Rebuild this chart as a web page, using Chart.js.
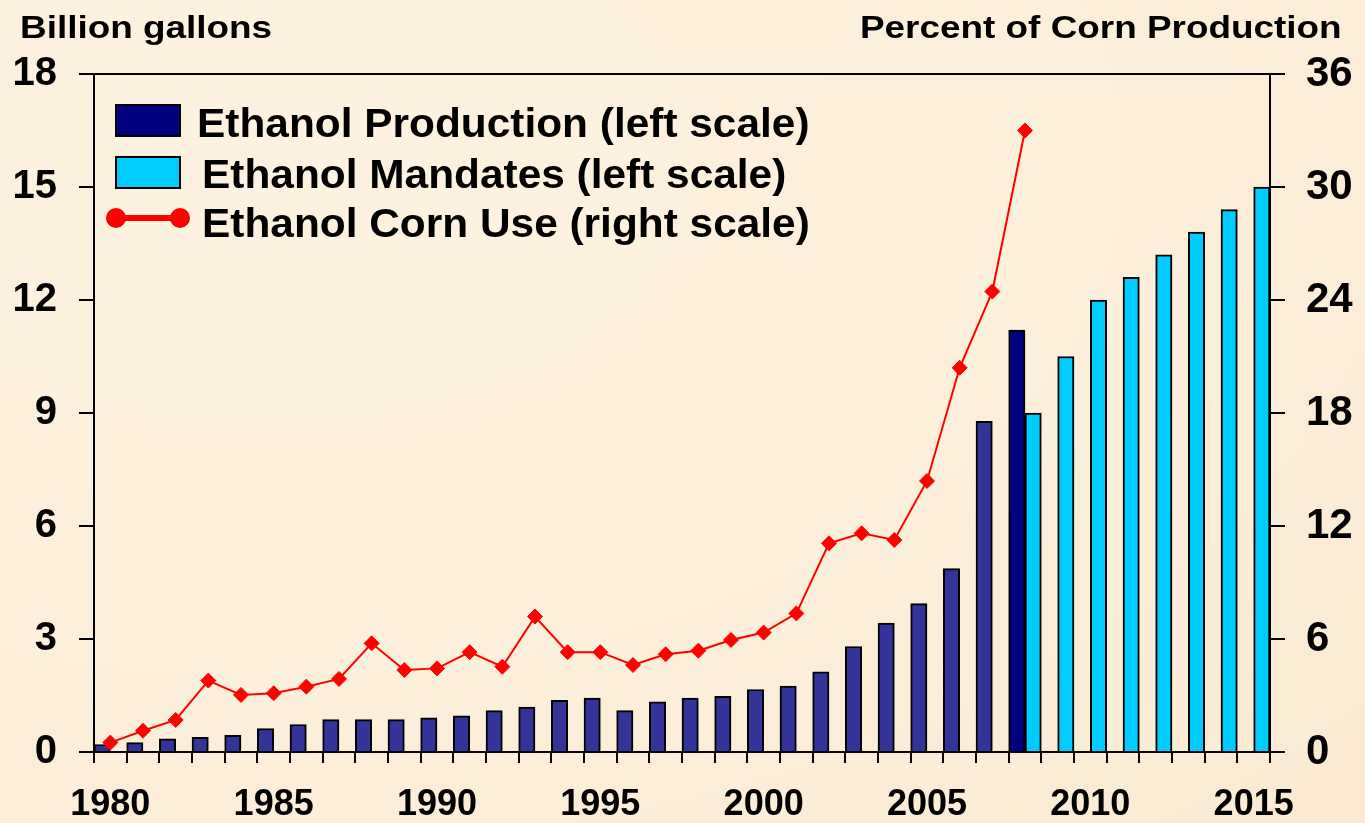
<!DOCTYPE html>
<html>
<head>
<meta charset="utf-8">
<title>Ethanol production, mandates and corn use</title>
<script src="https://cdn.jsdelivr.net/npm/chart.js@4.4.1/dist/chart.umd.min.js"></script>
<style>
  html, body { margin: 0; padding: 0; overflow: hidden; }
  body { background: #fcefdb; font-family: Arial, "Liberation Sans", sans-serif; }
  #wrap { position: relative; width: 1365px; height: 823px;
    background: radial-gradient(ellipse at 20% 20%, #fdf2e1 0%, #fcefdb 55%, #faead3 100%); }
  .txt { position: absolute; white-space: nowrap; font-weight: bold; color: #000;
    line-height: 1; transform-origin: 0 0; }
  .axtitle { font-size: 31px; transform: scaleX(1.19); top: 12px; }
  .leg { font-size: 40px; transform: scaleX(1.06); }
  .box { position: absolute; width: 62px; height: 29px; border: 2px solid #000; }
  .lineKey { position: absolute; left: 106px; top: 208px; width: 84px; height: 20px; }
  .lineKey .bar { position: absolute; left: 10px; right: 10px; top: 7px; height: 6px; background: #ff0000; }
  .lineKey .dot { position: absolute; top: 0; width: 20px; height: 20px; border-radius: 50%; background: #ff0000; }
</style>
</head>
<body>
<div id="wrap">
  <canvas id="ethanolChart"></canvas>

  <div class="txt axtitle" style="left:20px;">Billion gallons</div>
  <div class="txt axtitle" style="left:860px;">Percent of Corn Production</div>

  <div class="box" style="left:115px; top:104px; background:#000080;"></div>
  <div class="txt leg" style="left:197px; top:103px;">Ethanol Production (left scale)</div>

  <div class="box" style="left:115px; top:156px; background:#00ccff;"></div>
  <div class="txt leg" style="left:202px; top:154px;">Ethanol Mandates (left scale)</div>

  <div class="lineKey">
    <div class="bar"></div>
    <div class="dot" style="left:0;"></div>
    <div class="dot" style="right:0;"></div>
  </div>
  <div class="txt leg" style="left:202px; top:203px;">Ethanol Corn Use (right scale)</div>
</div>

<script>
// Years on the x axis
const years = [];
for (let y = 1980; y <= 2015; y++) years.push(String(y));

// Billion gallons (left scale)
const production = [0.20, 0.25, 0.35, 0.39, 0.44, 0.62, 0.73, 0.86, 0.86, 0.86,
  0.91, 0.96, 1.10, 1.19, 1.37, 1.43, 1.10, 1.33, 1.43, 1.48,
  1.66, 1.75, 2.13, 2.80, 3.42, 3.94, 4.87, 8.78, 11.2,
  null, null, null, null, null, null, null];

const mandates = [null, null, null, null, null, null, null, null, null, null,
  null, null, null, null, null, null, null, null, null, null,
  null, null, null, null, null, null, null, null,
  9.0, 10.5, 12.0, 12.6, 13.2, 13.8, 14.4, 15.0];

// Percent of corn production (right scale)
const cornUse = [0.5, 1.13, 1.7, 3.79, 3.03, 3.12, 3.47, 3.88, 5.77, 4.35,
  4.44, 5.3, 4.53, 7.19, 5.3, 5.3, 4.62, 5.19, 5.38, 5.95,
  6.34, 7.36, 11.08, 11.61, 11.26, 14.39, 20.4, 24.45, 33.0,
  null, null, null, null, null, null, null];

const leftTicks = [0, 3, 6, 9, 12, 15, 18];
const rightTicks = [0, 6, 12, 18, 24, 30, 36];

// last production bar (2008) is darker
const prodColors = years.map(y => y === "2008" ? "#000080" : "#333399");

// draws the frame line across the top of the plot
const topFrame = {
  id: "topFrame",
  afterDraw(chart) {
    const a = chart.chartArea;
    const ctx = chart.ctx;
    ctx.save();
    ctx.strokeStyle = "#000";
    ctx.lineWidth = 2;
    ctx.beginPath();
    ctx.moveTo(a.left - 15, a.top);
    ctx.lineTo(a.right + 15, a.top);
    ctx.stroke();
    ctx.restore();
  }
};

const ctx = document.getElementById("ethanolChart").getContext("2d");
new Chart(ctx, {
  type: "bar",
  data: {
    labels: years,
    datasets: [
      {
        type: "line",
        label: "Ethanol Corn Use (right scale)",
        data: cornUse,
        yAxisID: "yRight",
        borderColor: "#ff0000",
        backgroundColor: "#ff0000",
        borderWidth: 2,
        pointStyle: "rectRot",
        pointRadius: 7.5,
        pointBorderWidth: 1,
        tension: 0,
        order: 0
      },
      {
        label: "Ethanol Production (left scale)",
        data: production,
        yAxisID: "yLeft",
        backgroundColor: prodColors,
        borderColor: "#000",
        borderWidth: 2,
        categoryPercentage: 1.0,
        barPercentage: 1.0,
        order: 1
      },
      {
        label: "Ethanol Mandates (left scale)",
        data: mandates,
        yAxisID: "yLeft",
        backgroundColor: "#00ccff",
        borderColor: "#000",
        borderWidth: 2,
        categoryPercentage: 1.0,
        barPercentage: 1.0,
        order: 1
      }
    ]
  },
  options: {
    responsive: true,
    maintainAspectRatio: false,
    animation: false,
    layout: { padding: { top: 74, left: 0, right: 0, bottom: 0 } },
    plugins: {
      legend: { display: false },
      tooltip: { enabled: false }
    },
    scales: {
      x: {
        offset: true,
        grid: { offset: true, drawOnChartArea: false, color: "#000", lineWidth: 2, tickLength: 11 },
        border: { color: "#000", width: 2 },
        ticks: {
          autoSkip: false,
          maxRotation: 0,
          padding: 20,
          color: "#000",
          font: { family: "Arial, 'Liberation Sans'", size: 36, weight: "bold" },
          callback: function(val, i) {
            const y = years[i];
            return Number(y) % 5 === 0 ? y : "";
          }
        },
        afterFit: s => { s.height = 71; }
      },
      yLeft: {
        position: "left",
        min: 0,
        max: 18,
        afterBuildTicks: s => { s.ticks = leftTicks.map(v => ({ value: v })); },
        grid: { drawOnChartArea: false, color: "#000", lineWidth: 2, tickLength: 15 },
        border: { color: "#000", width: 2 },
        ticks: {
          padding: 22,
          color: "#000",
          font: { family: "Arial, 'Liberation Sans'", size: 40, weight: "bold" }
        },
        afterFit: s => { s.width = 94; }
      },
      yRight: {
        position: "right",
        min: 0,
        max: 36,
        afterBuildTicks: s => { s.ticks = rightTicks.map(v => ({ value: v })); },
        grid: { drawOnChartArea: false, color: "#000", lineWidth: 2, tickLength: 15 },
        border: { color: "#000", width: 2 },
        ticks: {
          padding: 21,
          color: "#000",
          font: { family: "Arial, 'Liberation Sans'", size: 42, weight: "bold" }
        },
        afterFit: s => { s.width = 95; }
      }
    }
  },
  plugins: [topFrame]
});
</script>
</body>
</html>
